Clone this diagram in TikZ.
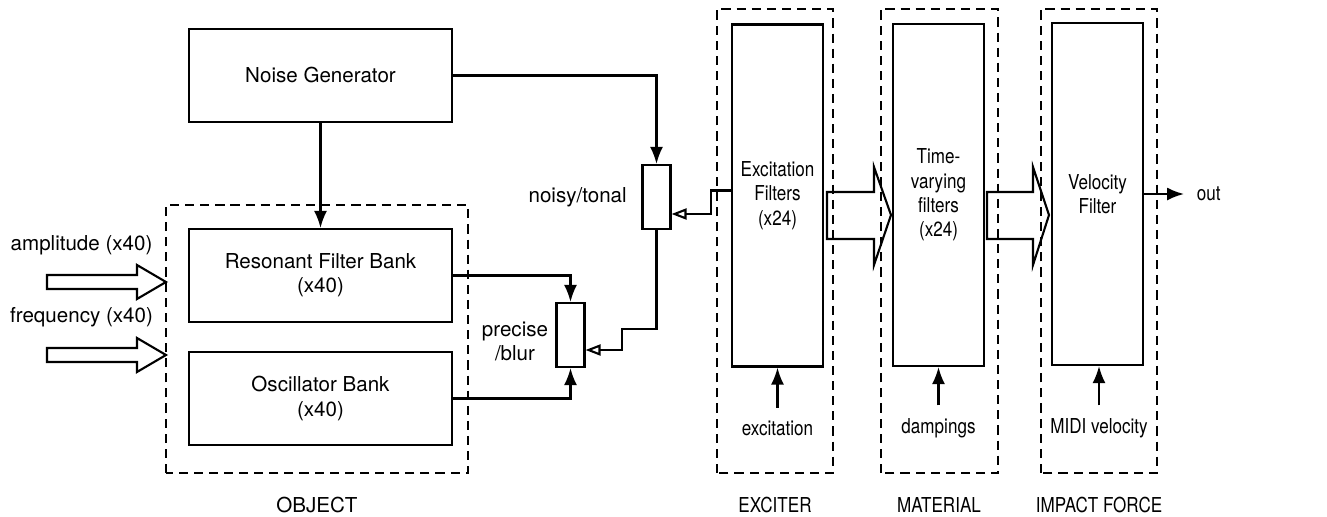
\documentclass[tikz,border=0pt]{standalone}
\usepackage{fontspec}
\setmainfont{TeX Gyre Heros}
\newfontfamily\narrowfont{TeX Gyre Heros}[FakeStretch=0.83]
\usepackage{tikz}
\usetikzlibrary{positioning, arrows.meta, calc}

\begin{document}
\begin{tikzpicture}[font=\fontsize{5.85}{6.9}\selectfont, line width=0.6pt,
  narrow/.style={font=\fontsize{5.85}{6.9}\selectfont\narrowfont},
  block/.style={draw, minimum width=2.63cm, minimum height=0.93cm, align=center, inner sep=0pt},
  tallblock/.style={draw, narrow, minimum width=0.91cm, minimum height=3.42cm, align=center, inner sep=0pt},
  knob/.style={draw, minimum width=0.28cm, minimum height=0.64cm, inner sep=0pt},
  group/.style={dash pattern=on 2.6pt off 1.7pt},
  sig/.style={-{Latex[length=1.7mm, width=1.3mm]}},
  ctrl/.style={-{Triangle[open, length=1.5mm, width=1.1mm]}}]
\useasboundingbox (0,0) rectangle (13.27,5.16);
\node[block] (noise) at (3.205,4.405) {Noise Generator};
\node[block] (res)   at (3.205,2.405) {Resonant Filter Bank\\(x40)};
\node[block] (osc)   at (3.205,1.175) {Oscillator Bank\\(x40)};
\node[knob] (noisy) at (6.565,3.19) {};
\node[knob] (prec)  at (5.705,1.81) {};
\node[left=0.02cm of noisy] (noisylbl) {noisy/tonal};
\node[align=center] (preclbl) at (5.15,1.745) {precise\\/blur};
\node[tallblock] (excf)  at (7.775,3.205) {Excitation\\Filters\\(x24)};
\node[tallblock] (timef) at (9.385,3.21) {Time-\\varying\\filters\\(x24)};
\node[tallblock] (velf)  at (10.975,3.22) {Velocity\\Filter};
\node[narrow] (excin)  at (7.775,0.88) {excitation};
\node[narrow] (dampin) at (9.385,0.88) {dampings};
\node[narrow] (velin)  at (10.99,0.88) {MIDI velocity};
\node[narrow, right=0.4cm of velf] (out) {out};
\node (amp)  at (0.815,2.71) {amplitude (x40)};
\node (freq) at (0.815,1.99) {frequency (x40)};
\node (objlbl) at (3.17,0.11)  {OBJECT};
\node[narrow] (exclbl) at (7.75,0.11)  {EXCITER};
\node[narrow] (matlbl) at (9.39,0.11)  {MATERIAL};
\node[narrow] (implbl) at (10.99,0.11) {IMPACT FORCE};
\draw[group] (1.66,0.43) rectangle (4.68,3.11);
\draw[group] (7.17,0.43) rectangle (8.33,5.07);
\draw[group] (8.81,0.43) rectangle (9.98,5.07);
\draw[group] (10.41,0.43) rectangle (11.57,5.07);
\foreach \yc in {2.34, 1.61} {
  \draw (0.47,\yc+0.07) -- (1.37,\yc+0.07) -- (1.37,\yc+0.17) -- (1.66,\yc)
    -- (1.37,\yc-0.17) -- (1.37,\yc-0.07) -- (0.47,\yc-0.07) -- cycle;
}
\foreach \xs/\xh/\xt in {8.27/8.74/8.91, 9.87/10.33/10.49} {
  \draw (\xs,3.24) -- (\xh,3.24) -- (\xh,3.49) -- (\xt,3.01)
    -- (\xh,2.51) -- (\xh,2.77) -- (\xs,2.77) -- cycle;
}
\draw[sig] (noise) -- (res);
\draw[sig] (noise.east) -| (noisy.north);
\draw[sig] (res.east) -| (prec.north);
\draw[sig] (osc.east) -| (prec.south);
\draw[ctrl] ([yshift=0.05cm]excf.west) -- ++(-0.2,0) |- ([yshift=-0.17cm]noisy.east);
\draw[ctrl] (noisy.south) |- (6.22,1.87) |- ([yshift=-0.15cm]prec.east);
\draw[sig] (excin.north) -- (excin.north |- excf.south);
\draw[sig] (dampin.north) -- (dampin.north |- timef.south);
\draw[sig] (velin.north) -- (velin.north |- velf.south);
\draw[sig] (velf) -- (out);
\end{tikzpicture}
\end{document}
